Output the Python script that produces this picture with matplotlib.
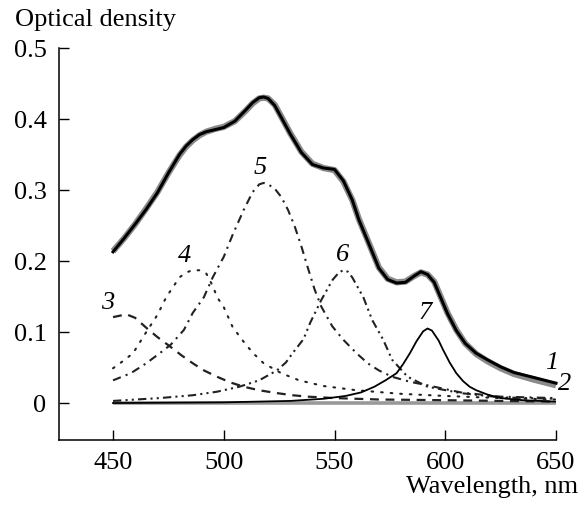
import matplotlib
matplotlib.use("Agg")
import matplotlib.pyplot as plt

plt.rcParams["font.family"] = ["Liberation Serif", "DejaVu Serif"]

# curve 1: measured spectrum
wl1 = [450, 455, 460, 465, 470, 475, 480, 483, 486, 489, 492, 496, 500, 505, 510, 513,
       516, 518, 520, 523, 526, 530, 535, 540, 545, 550, 554, 558, 561, 565, 570, 574,
       578, 582, 586, 589, 592, 595, 598, 601, 605, 609, 614, 619, 625, 631, 640, 650]
od1 = [0.213, 0.232, 0.252, 0.273, 0.296, 0.324, 0.350, 0.362, 0.371, 0.378, 0.382, 0.385,
       0.388, 0.397, 0.413, 0.423, 0.430, 0.431, 0.429, 0.419, 0.402, 0.379, 0.353, 0.336,
       0.331, 0.329, 0.313, 0.286, 0.258, 0.228, 0.190, 0.174, 0.169, 0.170, 0.179, 0.185,
       0.181, 0.170, 0.148, 0.126, 0.102, 0.084, 0.070, 0.061, 0.051, 0.043, 0.036, 0.028]
# curve 2: sum of components (nearly coincides with 1)
od2 = [0.214, 0.232, 0.252, 0.274, 0.297, 0.324, 0.349, 0.361, 0.370, 0.377, 0.382, 0.386,
       0.389, 0.397, 0.412, 0.422, 0.429, 0.430, 0.429, 0.420, 0.403, 0.380, 0.354, 0.337,
       0.331, 0.328, 0.312, 0.286, 0.259, 0.229, 0.191, 0.175, 0.170, 0.171, 0.179, 0.184,
       0.181, 0.171, 0.149, 0.127, 0.103, 0.084, 0.069, 0.059, 0.049, 0.041, 0.033, 0.025]

# curve 3 (dashed)
wl3 = [450, 456, 460, 465, 470, 476, 481, 486, 491, 497, 503, 509, 516, 524, 531, 538,
       550, 570, 600, 625, 650]
od3 = [0.121, 0.125, 0.120, 0.106, 0.093, 0.079, 0.067, 0.056, 0.046, 0.037, 0.029, 0.023,
       0.018, 0.014, 0.011, 0.009, 0.007, 0.005, 0.004, 0.003, 0.002]

# curve 4 (dotted)
wl4 = [450, 454, 459, 462, 465, 470, 474, 477, 480, 483, 486, 489, 492, 495, 497, 500,
       504, 510, 514, 518, 526, 534, 545, 560, 580, 600, 625, 650]
od4 = [0.049, 0.058, 0.070, 0.085, 0.100, 0.124, 0.149, 0.163, 0.177, 0.184, 0.187, 0.187,
       0.183, 0.165, 0.149, 0.135, 0.107, 0.082, 0.068, 0.056, 0.042, 0.032, 0.024, 0.018,
       0.013, 0.010, 0.007, 0.005]

# curve 5 (dash-dot)
wl5 = [450, 458, 465, 471, 476, 482, 486, 491, 495, 500, 504, 509, 513, 516, 518, 520,
       523, 526, 529, 532, 535, 538, 541, 544, 549, 554, 560, 565, 570, 576, 584, 592,
       607, 625, 650]
od5 = [0.032, 0.042, 0.056, 0.070, 0.082, 0.103, 0.127, 0.149, 0.177, 0.206, 0.237, 0.272,
       0.297, 0.308, 0.310, 0.308, 0.302, 0.290, 0.272, 0.249, 0.221, 0.190, 0.160, 0.136,
       0.108, 0.089, 0.070, 0.056, 0.046, 0.037, 0.030, 0.025, 0.015, 0.009, 0.007]

# curve 6 (dash-dot-dot)
wl6 = [450, 471, 486, 497, 507, 516, 524, 528, 531, 536, 539, 544, 549, 552, 554, 556,
       558, 563, 567, 572, 576, 583, 592, 607, 625, 650]
od6 = [0.003, 0.007, 0.011, 0.016, 0.023, 0.032, 0.046, 0.057, 0.070, 0.090, 0.113, 0.145,
       0.173, 0.184, 0.187, 0.185, 0.177, 0.149, 0.117, 0.089, 0.061, 0.037, 0.023, 0.014,
       0.008, 0.006]

# curve 7 (thin solid)
wl7 = [450, 500, 530, 545, 555, 562, 568, 573, 578, 581, 584, 587, 590, 592, 594, 597,
       599, 602, 605, 608, 611, 614, 619, 625, 635, 650]
od7 = [0.000, 0.001, 0.003, 0.006, 0.010, 0.015, 0.023, 0.032, 0.042, 0.055, 0.070, 0.087,
       0.101, 0.105, 0.102, 0.088, 0.075, 0.057, 0.042, 0.031, 0.023, 0.018, 0.012, 0.007,
       0.004, 0.002]

base_wl = [450, 650]
base_od = [0.0, 0.0]

# curve numbers: label, wavelength, optical density
lab_txt = ["1", "2", "3", "4", "5", "6", "7"]
lab_wl = [648.2, 654.0, 447.7, 482.5, 516.4, 553.8, 590.9]
lab_od = [0.056, 0.027, 0.141, 0.207, 0.331, 0.208, 0.127]

fig = plt.figure(figsize=(5.79, 5.08), dpi=100)
ax = fig.add_axes([0.1019, 0.1339, 0.9603 - 0.1019, 0.9055 - 0.1339])

dk = "#222222"
ax.plot(base_wl, base_od, color="#999999", lw=2.6, solid_capstyle="butt")
ax.plot(wl3, od3, color=dk, lw=1.6, ls=(0, (4, 3)))
ax.plot(wl4, od4, color=dk, lw=1.5, ls=(0, (0.8, 3.8)), dash_capstyle="round")
ax.plot(wl5, od5, color=dk, lw=1.5, ls=(0, (4, 2.5, 1, 2.5)))
ax.plot(wl6, od6, color=dk, lw=1.5, ls=(0, (4, 2, 1, 2, 1, 2)))
ax.plot(wl7, od7, color="black", lw=1.3)
ax.plot(wl1, od2, color="#8a8a8a", lw=4.5, clip_on=False, solid_capstyle="butt")
ax.plot(wl1, od1, color="black", lw=2.2, clip_on=False)

for t, x, y in zip(lab_txt, lab_wl, lab_od):
    ax.text(x, y, t, fontsize=19, style="italic", ha="center", va="center")

ax.set_xlim(425.6, 650)
ax.set_ylim(-0.052, 0.5)
ax.set_xticks([450, 500, 550, 600, 650])
ax.set_yticks([0, 0.1, 0.2, 0.3, 0.4, 0.5])
ax.set_yticklabels(["0", "0.1", "0.2", "0.3", "0.4", "0.5"])
ax.tick_params(direction="in", length=7, width=1.0, labelsize=19, pad=9, colors="black")
ax.spines["top"].set_visible(False)
ax.spines["right"].set_visible(False)
for s in ("left", "bottom"):
    ax.spines[s].set_linewidth(1.1)

fig.text(15 / 579, 1 - 20 / 508, "Optical density", fontsize=19, ha="left", va="center")
fig.text(578 / 579, 1 - 487 / 508, "Wavelength, nm", fontsize=19, ha="right", va="center")

fig.savefig("out.png", dpi=100)
